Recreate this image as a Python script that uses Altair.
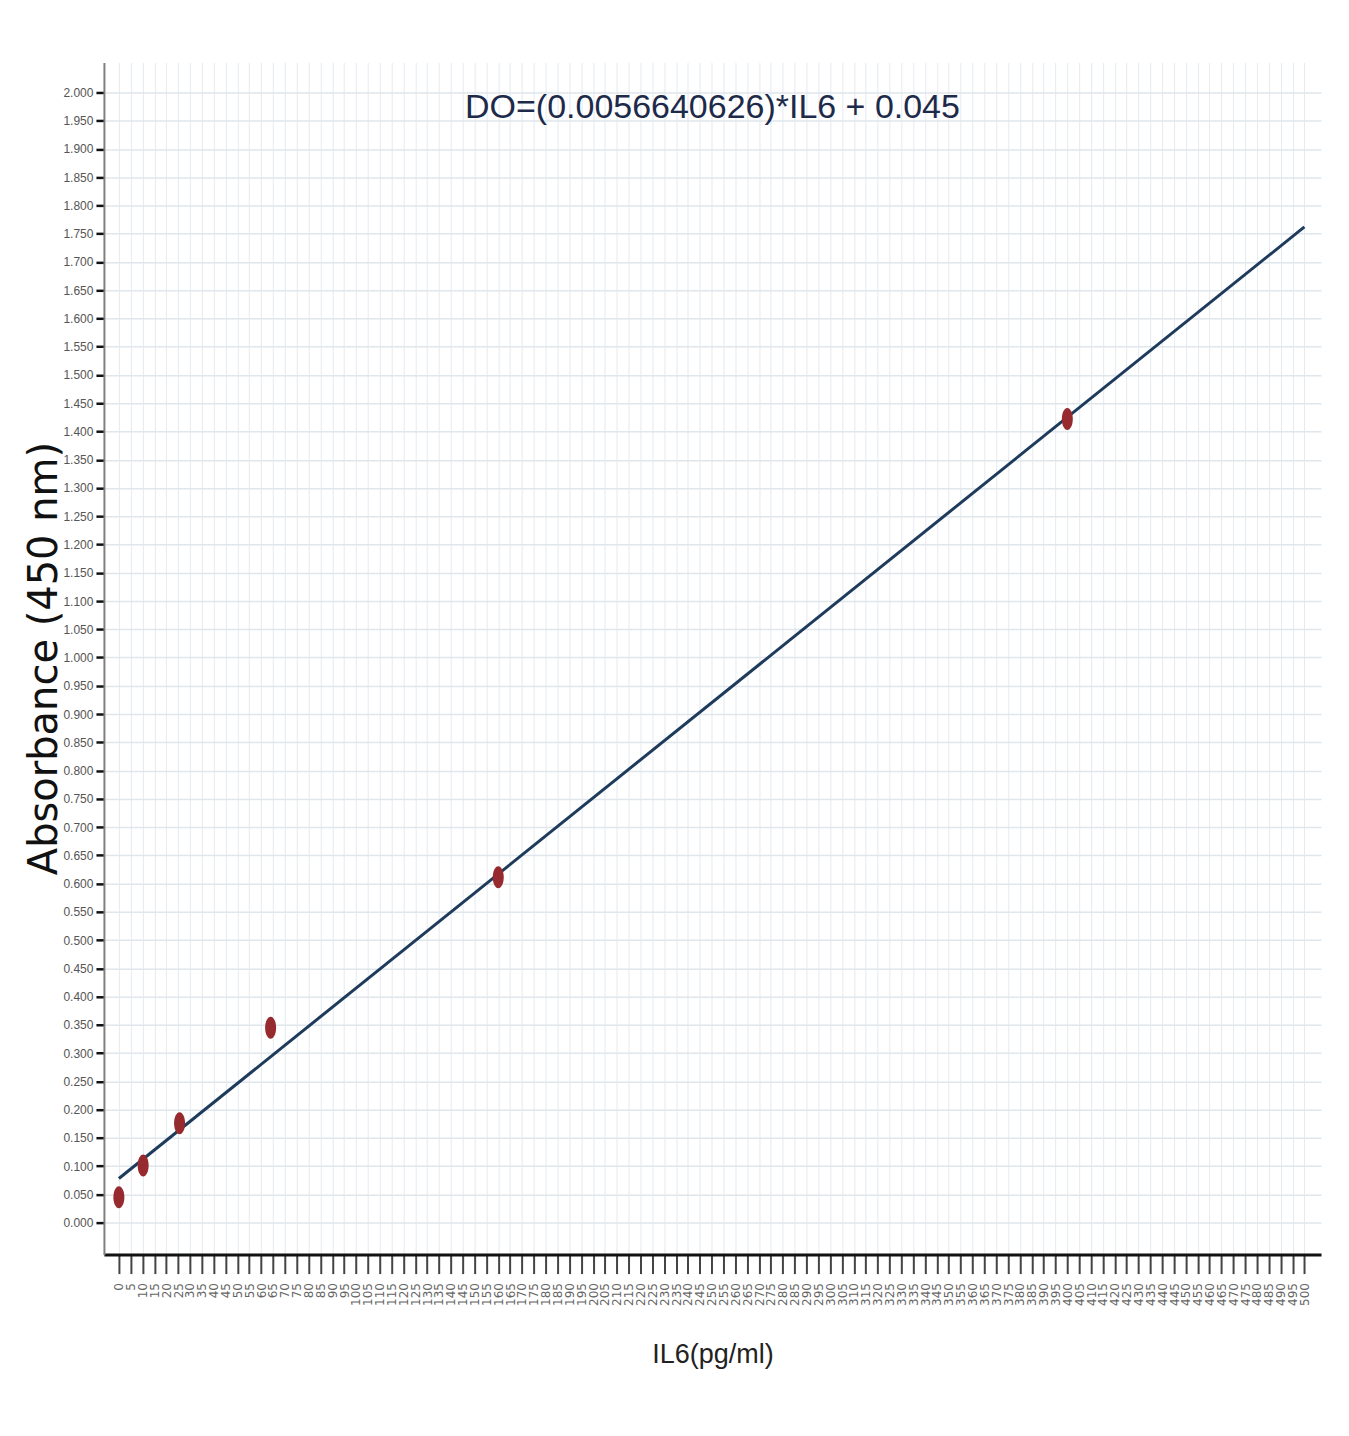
import altair as alt
import pandas as pd

# Data
il6_conc = [0, 10.24, 25.6, 64, 160, 400]
absorbance = [0.045, 0.101, 0.176, 0.345, 0.611, 1.422]
fit_conc = [0, 500]
fit_abs = [0.078, 1.762]
x_ticks = list(range(0, 505, 5))
y_ticks = [round(i * 0.05, 2) for i in range(41)]
title_text = "DO=(0.0056640626)*IL6 + 0.045"
x_title = "IL6(pg/ml)"
y_title = "Absorbance (450 nm)"

ARIAL = "Liberation Sans, Arial, sans-serif"
ELLIPSE = "M0,-1A0.5,1,0,1,1,0,1A0.5,1,0,1,1,0,-1Z"

pts = pd.DataFrame({"x": il6_conc, "y": absorbance})
fit = pd.DataFrame({"x": fit_conc, "y": fit_abs})

xscale = alt.Scale(domain=[-6.3, 507], nice=False, zero=False)
yscale = alt.Scale(domain=[-0.0566, 2.053], nice=False, zero=False)

xaxis = alt.Axis(
    values=x_ticks, tickCount=101, title=x_title, labelAngle=270,
    labelOverlap=False, labelFlush=False, labelFont="DejaVu Sans",
    labelFontSize=12, labelColor="#666666", labelPadding=9, tickSize=19,
    tickWidth=2, tickColor="#444444", domainColor="#111111", domainWidth=3,
    gridColor="#e4eaef", gridWidth=1, titleFont=ARIAL, titleFontSize=27,
    titleFontWeight="normal", titleColor="#222222", titleY=100,
    titleBaseline="middle",
)

yaxis = alt.Axis(
    values=y_ticks, tickCount=41, format=".3f", title=y_title,
    labelOverlap=False, labelFlush=False, labelFont=ARIAL, labelFontSize=12,
    labelColor="#555555", labelPadding=3, tickSize=8, tickWidth=2.5,
    tickColor="#111111", domainColor="#808080", domainWidth=2,
    gridColor="#dfe6ec", gridWidth=1.5, titleFont="DejaVu Sans",
    titleFontSize=40, titleFontWeight="normal", titleColor="#111111",
    titleAngle=270, titleX=-59, titleY=596, titleBaseline="middle",
    titleAlign="center",
)

X = alt.X("x:Q", scale=xscale, axis=xaxis)
Y = alt.Y("y:Q", scale=yscale, axis=yaxis)

line = alt.Chart(fit).mark_line(color="#1f3b5c", strokeWidth=3).encode(x=X, y=Y)

points = alt.Chart(pts).mark_point(
    shape=ELLIPSE, filled=True, size=484, color="#962a2e", opacity=1
).encode(x=X, y=Y)

chart = alt.layer(line, points).properties(
    width=1218,
    height=1193,
    title=alt.TitleParams(
        text=title_text, font=ARIAL, fontSize=34, fontWeight="normal",
        color="#1d2a4a", anchor="middle", frame="group", offset=-90,
        baseline="alphabetic",
    ),
    autosize=alt.AutoSizeParams(type="none"),
    padding={"left": 96, "top": 54, "right": 20, "bottom": 170},
).configure(background="white").configure_view(strokeWidth=0)

chart.save("out.html", embed_options={"renderer": "svg", "actions": False})
